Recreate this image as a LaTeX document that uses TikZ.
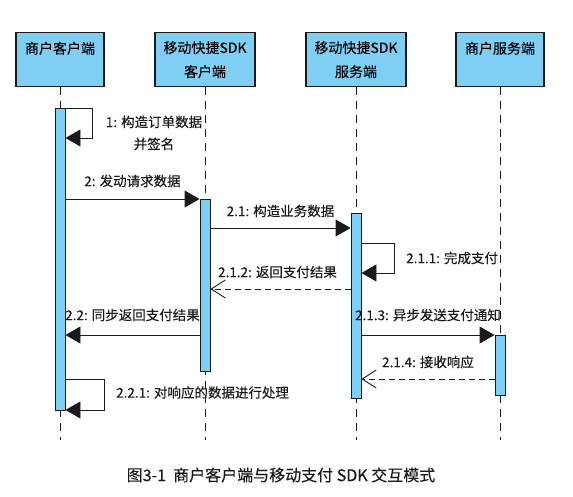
\documentclass[tikz,border=0pt]{standalone}
\usepackage{fontspec}
\setmainfont{Noto Sans CJK SC}[FakeBold=0.12]
\usetikzlibrary{arrows.meta,positioning,calc}
\definecolor{sdblue}{HTML}{7FCFF5}
\definecolor{sdink}{HTML}{1A1A1A}
\tikzset{
  head/.style={draw=sdink,line width=1.3pt,fill=sdblue,minimum height=54pt,
               align=center,inner sep=2pt,anchor=north,font=\fontsize{14}{24}\selectfont},
  act/.style={draw=sdink,line width=0.9pt,fill=sdblue,minimum width=10pt,inner sep=0pt,anchor=north},
  life/.style={draw=sdink,line width=0.9pt,dash pattern=on 8pt off 6pt},
  call/.style={draw=sdink,line width=0.9pt,-{Triangle[length=15pt,width=17pt]}},
  reply/.style={draw=sdink,line width=0.9pt,dash pattern=on 6pt off 4pt,
                -{Straight Barb[length=14pt,width=18pt]}},
  lbl/.style={font=\fontsize{13.5}{22}\selectfont,inner sep=1pt,text=sdink},
}

\begin{document}
\begin{tikzpicture}[x=1pt,y=-1pt]
  \path[fill=white,use as bounding box] (0,0) rectangle (573,497);

  % ---------- participants ----------
  \node[head,minimum width=88pt]  (hdA) at (60,32)  {商户客户端\\~};
  \node[head,minimum width=100pt] (hdB) at (205,32) {移动快捷SDK\\客户端};
  \node[head,minimum width=100pt] (hdC) at (356,32) {移动快捷SDK\\服务端};
  \node[head,minimum width=88pt]  (hdD) at (500,32) {商户服务端\\~};

  % lifelines
  \foreach \p/\x in {A/60,B/205,C/356,D/500}{
    \coordinate (end\p) at (\x,440);
    \draw[life] (hd\p.south) -- (end\p);}

  % activation bars
  \node[act,minimum height=302pt] (barA) at (60,108) {};
  \node[act,minimum height=172pt] (barB) at (205,199) {};
  \node[act,minimum height=185pt] (barC) at (356,213) {};
  \node[act,minimum height=60pt]  (barD) at (500,335) {};

  % message levels
  \coordinate (y2)   at (0,199);
  \coordinate (y21)  at (0,228);
  \coordinate (y212) at (0,289);
  \coordinate (y22)  at (0,335);
  \coordinate (y214) at (0,379);

  % ---------- self calls ----------
  \coordinate (s1a) at (92,108);  \coordinate (s1b) at (92,138);
  \draw[call] (barA.east |- s1a) -- (s1a) -- (s1b) -- (barA.east |- s1b);
  \node[lbl,align=center] (t1) at (154,133) {1: 构造订单数据\\并签名};

  \coordinate (s211a) at (394,243); \coordinate (s211b) at (394,273);
  \draw[call] (barC.east |- s211a) -- (s211a) -- (s211b) -- (barC.east |- s211b);
  \node[lbl,anchor=west] (t211) at ($(s211a)!0.5!(s211b)+(11,0)$) {2.1.1: 完成支付};

  \coordinate (s221a) at (104,379); \coordinate (s221b) at (104,410);
  \draw[call] (barA.east |- s221a) -- (s221a) -- (s221b) -- (barA.east |- s221b);
  \node[lbl,anchor=west] (t221) at ($(s221a)!0.5!(s221b)+(11,-2)$) {2.2.1: 对响应的数据进行处理};

  % ---------- messages ----------
  \draw[call] (barA.east |- y2) -- node[lbl,yshift=18pt] {2: 发动请求数据} (barB.west |- y2);
  \draw[call] (barB.east |- y21) -- node[lbl,yshift=17pt] {2.1: 构造业务数据} (barC.west |- y21);
  \draw[reply] (barC.west |- y212) -- node[lbl,xshift=-3pt,yshift=17pt] {2.1.2: 返回支付结果} (barB.east |- y212);
  \draw[call] (barB.west |- y22) -- node[lbl,yshift=20pt] {2.2: 同步返回支付结果} (barA.east |- y22);
  \draw[call] (barC.east |- y22) -- node[lbl,yshift=20pt] {2.1.3: 异步发送支付通知} (barD.west |- y22);
  \draw[reply] (barD.west |- y214) -- node[lbl,yshift=17pt] {2.1.4: 接收响应} (barC.east |- y214);

  % caption
  \node[font=\fontsize{16}{18}\selectfont,text=sdink] (cap) at (281,475) {图3-1\ \ 商户客户端与移动支付 SDK 交互模式};
\end{tikzpicture}
\end{document}
